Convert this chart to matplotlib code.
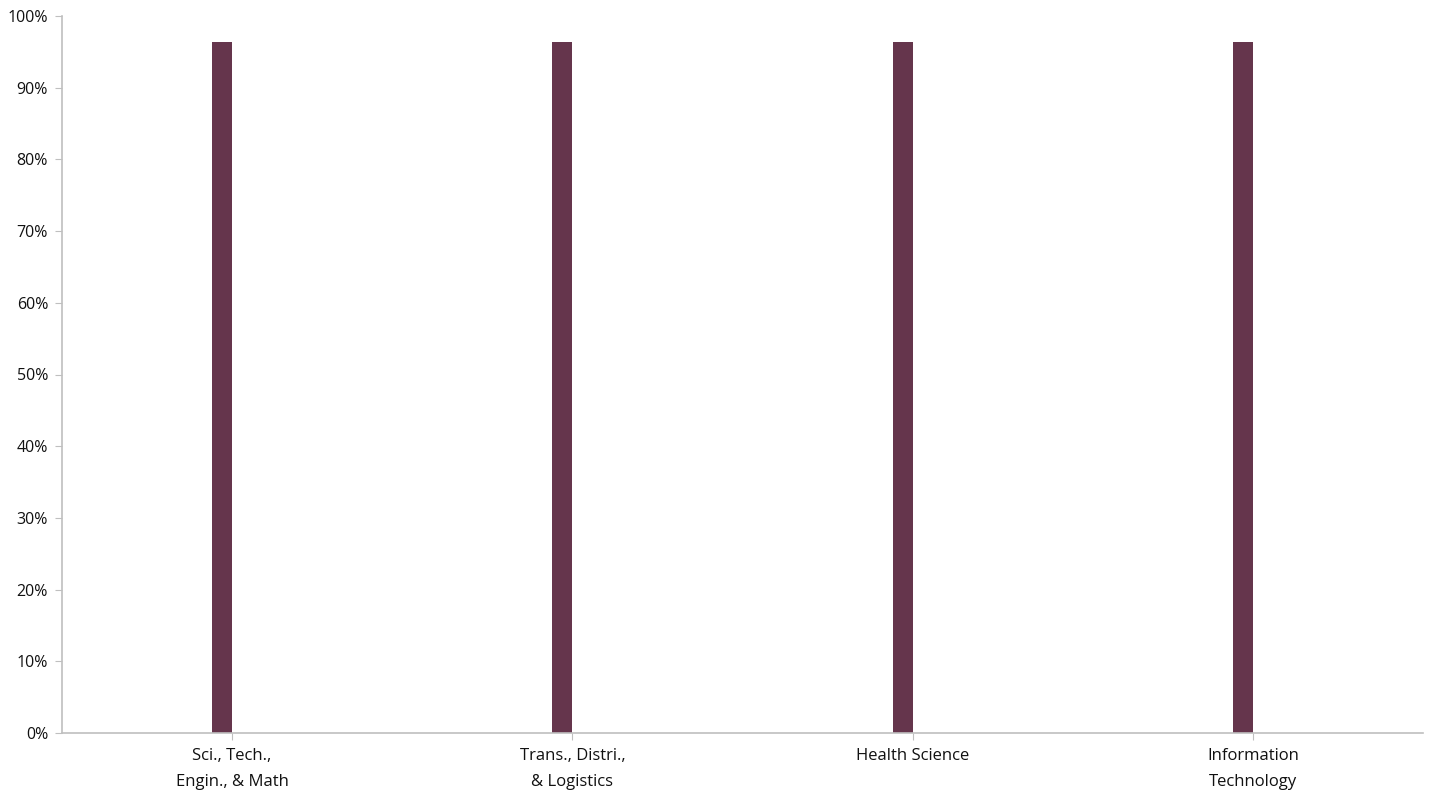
import numpy as np
import matplotlib.pyplot as plt
from matplotlib.ticker import FuncFormatter

plt.rcParams["font.family"] = ["Open Sans", "DejaVu Sans"]

categories = ["Sci., Tech.,\nEngin., & Math", "Trans., Distri.,\n& Logistics",
              "Health Science", "Information\nTechnology"]
share = [96.4, 96.4, 96.4, 96.4]

W, H = 1437, 796
fig = plt.figure(figsize=(W / 100, H / 100), dpi=100)
ax = fig.add_axes([62 / W, 1 - 733 / H, (1423 - 62) / W, (733 - 16) / H])

x = np.arange(len(categories))
bar_w = 20 / 340
ax.bar(x - bar_w / 2, share, width=bar_w, color="#65354c", edgecolor="none")

ax.set_xlim(-0.5, len(categories) - 0.5)
ax.set_ylim(0, 100)
ax.set_yticks(np.arange(0, 101, 10))
ax.yaxis.set_major_formatter(FuncFormatter(lambda v, p: f"{v:.0f}%"))
ax.set_xticks(x)
ax.set_xticklabels(categories, linespacing=1.82, fontsize=12)

for s in ["top", "right"]:
    ax.spines[s].set_visible(False)
for s in ["left", "bottom"]:
    ax.spines[s].set_color("#bfbfbf")
    ax.spines[s].set_linewidth(1.2)
ax.tick_params(axis="both", colors="#bfbfbf", labelcolor="#111111", length=5)
ax.tick_params(axis="y", pad=5, labelsize=11.5)
ax.tick_params(axis="x", pad=6)

fig.savefig("out.png", dpi=100)
